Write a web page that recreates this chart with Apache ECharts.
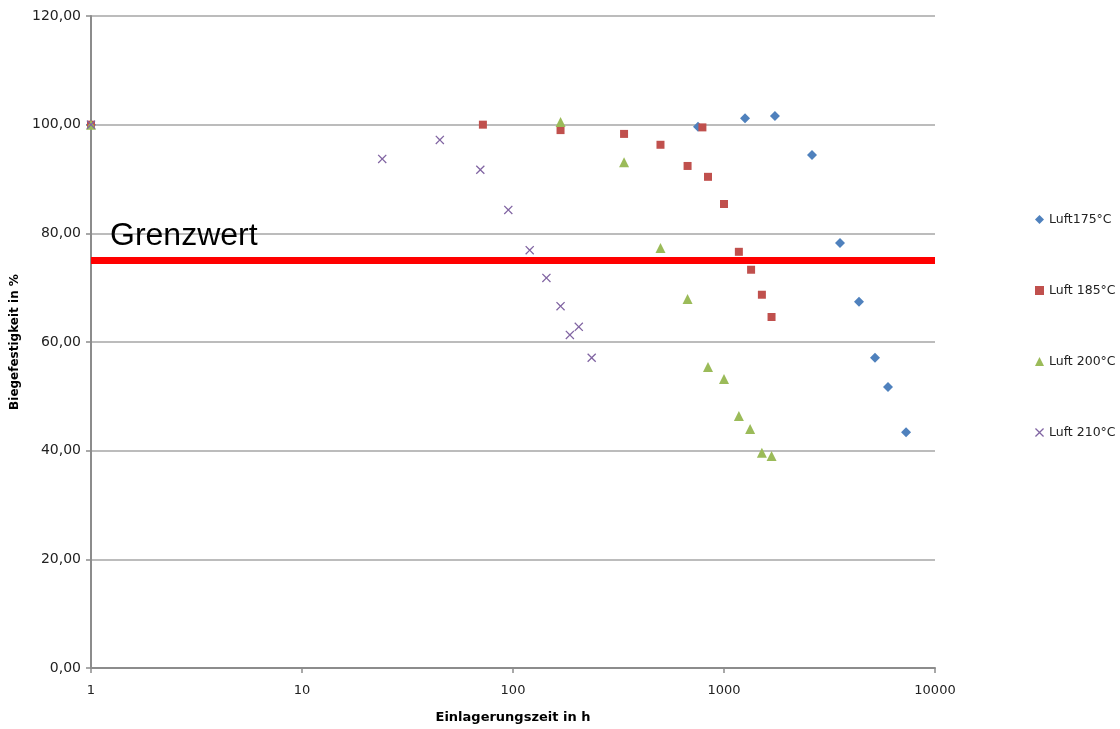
<!DOCTYPE html>
<html><head><meta charset="utf-8">
<script src="https://cdn.jsdelivr.net/npm/echarts@6/dist/echarts.min.js"></script>
<style>html,body{margin:0;padding:0;background:#fff}#c{width:1120px;height:729px}</style>
</head><body><div id="c"></div>
<script>
// Luft 175°C
const x175 = [1, 753, 1258, 1744, 2612, 3546, 4363, 5196, 5986, 7292];
const y175 = [100, 99.6, 101.2, 101.6, 94.4, 78.2, 67.4, 57.1, 51.7, 43.4];
// Luft 185°C
const x185 = [1, 72, 168, 336, 500, 672, 790, 840, 1000, 1176, 1344, 1512, 1680];
const y185 = [100, 100, 99.0, 98.3, 96.3, 92.4, 99.5, 90.4, 85.4, 76.6, 73.3, 68.7, 64.6];
// Luft 200°C
const x200 = [1, 168, 336, 500, 672, 840, 1000, 1176, 1330, 1512, 1680];
const y200 = [100, 100.5, 93.1, 77.3, 67.9, 55.4, 53.2, 46.4, 44.0, 39.6, 39.0];
// Luft 210°C
const x210 = [1, 24, 45, 70, 95, 120, 144, 168, 186, 205, 236];
const y210 = [100, 93.7, 97.2, 91.7, 84.3, 76.9, 71.8, 66.6, 61.3, 62.8, 57.1];
// Grenzwert
const grenzwert = 75;
const grenzLabel = 'Grenzwert';
const seriesNames = ['Luft175°C', 'Luft 185°C', 'Luft 200°C', 'Luft 210°C'];
const xTicks = [1, 10, 100, 1000, 10000];

const zip = (xs, ys) => xs.map((x, i) => [x, ys[i]]);
const crossPath = 'path://M0,1 L1,0 L5,4 L9,0 L10,1 L6,5 L10,9 L9,10 L5,6 L1,10 L0,9 L4,5 Z';
const colors = ['#4F81BD', '#C0504D', '#9BBB59', '#8064A2'];
const symbols = ['diamond', 'rect', 'triangle', crossPath];
const sizes = [10, 8, 10, 9];
const datasets = [zip(x175, y175), zip(x185, y185), zip(x200, y200), zip(x210, y210)];

const chart = echarts.init(document.getElementById('c'));
const series = datasets.map((d, i) => ({
  name: seriesNames[i], type: 'scatter', data: d,
  symbol: symbols[i], symbolSize: sizes[i],
  itemStyle: { color: colors[i], opacity: 1 },
  z: 3 + i
}));
series.push({
  name: 'grenz', type: 'scatter', data: [], silent: true, z: 2,
  markLine: {
    silent: true, symbol: ['none', 'none'], animation: false,
    data: [{ yAxis: grenzwert }],
    lineStyle: { color: '#FF0000', width: 7, type: 'solid' },
    label: {
      show: true, position: 'insideStartTop', formatter: grenzLabel,
      fontFamily: 'Liberation Sans', fontSize: 32, color: '#000', distance: [19, 8]
    },
    emphasis: { disabled: true }
  }
});

chart.setOption({
  animation: false,
  backgroundColor: '#fff',
  grid: { left: 91, top: 16, width: 844, height: 652, containLabel: false, outerBoundsMode: 'none' },
  legend: {
    orient: 'vertical', left: 1030, top: 208,
    data: seriesNames.map((n, i) => ({ name: n, icon: i === 3 ? crossPath : symbols[i] })),
    itemWidth: 9, itemHeight: 9, itemGap: 58,
    textStyle: { fontFamily: 'DejaVu Sans', fontSize: 12.5, color: '#222' },
    selectedMode: false
  },
  xAxis: {
    type: 'log', logBase: 10, min: 1, max: 10000,
    name: 'Einlagerungszeit in h', nameLocation: 'middle', nameGap: 43,
    nameTextStyle: { fontFamily: 'DejaVu Sans', fontWeight: 'bold', fontSize: 13, color: '#000' },
    axisLine: { show: true, lineStyle: { color: '#8c8c8c', width: 2 } },
    axisTick: { show: true, inside: false, length: 5, lineStyle: { color: '#8c8c8c', width: 1.5 } },
    axisLabel: { fontFamily: 'DejaVu Sans', fontSize: 13, color: '#222', margin: 16,
      formatter: v => String(Math.round(v)) },
    splitLine: { show: false },
    minorTick: { show: false }
  },
  yAxis: {
    type: 'value', min: 0, max: 120, interval: 20,
    name: 'Biegefestigkeit in %', nameLocation: 'middle', nameGap: 70, nameRotate: 90,
    nameTextStyle: { fontFamily: 'DejaVu Sans', fontWeight: 'bold', fontSize: 12, color: '#000' },
    axisLine: { show: true, lineStyle: { color: '#8c8c8c', width: 2 } },
    axisTick: { show: true, inside: false, length: 5, lineStyle: { color: '#8c8c8c', width: 1.5 } },
    axisLabel: { fontFamily: 'DejaVu Sans', fontSize: 14, color: '#222', margin: 10,
      formatter: v => v.toFixed(2).replace('.', ',') },
    splitLine: { show: true, lineStyle: { color: '#a6a6a6', width: 1.5 } }
  },
  series: series
});
</script></body></html>
